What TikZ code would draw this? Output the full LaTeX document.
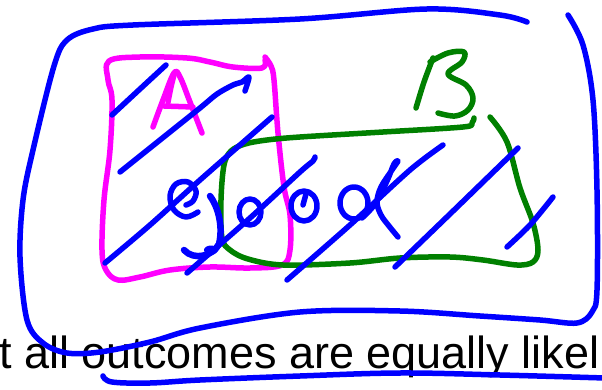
\documentclass[tikz,border=0pt]{standalone}
\usepackage{fontspec}
\newfontfamily\capfont{Liberation Sans}
\definecolor{penblue}{RGB}{0,0,255}
\definecolor{penpink}{RGB}{255,0,255}
\definecolor{pengreen}{RGB}{0,128,0}
\tikzset{
  bluepen/.style={draw=penblue, line width=5.5pt, line cap=round, line join=round},
  pinkpen/.style={draw=penpink, line width=5.5pt, line cap=round, line join=round},
  greenpen/.style={draw=pengreen, line width=5.5pt, line cap=round, line join=round},
  captext/.style={anchor=base west, inner sep=0pt, font=\capfont\fontsize{45}{54}\selectfont, text=black}
}
\begin{document}
\begin{tikzpicture}[x=1pt,y=-1pt]
\useasboundingbox (0,0) rectangle (602,390);
\fill[white] (0,0) rectangle (602,390);

% caption text
\node[captext] (caption) at (-1,368) {t all outcomes are equally likel};

% pink box A
\draw[pinkpen] plot[smooth, tension=0.6] coordinates {(265,60) (262,68) (233,67) (210,62) (187,58) (140,57) (109,61) (108,80) (112,100) (110,150) (104,200) (102,250) (106,270) (118,280) (140,277) (170,270) (210,267) (250,268) (282,265) (290,250) (290,215) (284,187) (278,133) (274,80) (271,66) (265,57)};
% letter A
\draw[pinkpen] plot[smooth, tension=0.6] coordinates {(153,127) (163,100) (174,73) (180,77) (190,102) (202,133)};
\draw[pinkpen] plot[smooth, tension=0.6] coordinates {(168,102) (171,87) (174,75)};
\draw[pinkpen] (164,106) -- (193,107);

% green box B
\draw[greenpen] plot[smooth, tension=0.55] coordinates {(474,118) (472,123) (463,127) (383,132) (300,137) (267,140) (245,144) (231,151) (224,165) (221,200) (222,238) (230,250) (248,259) (283,265) (350,263) (400,258) (450,257) (483,260) (517,265) (533,262) (538,250) (533,223) (520,188) (507,142) (490,117)};
% letter B
\draw[greenpen] plot[smooth, tension=0.6] coordinates {(416,108) (424,82) (433,58)};
\draw[greenpen] plot[smooth, tension=0.6] coordinates {(430,62) (448,53) (464,52) (462,62) (448,74) (466,85) (473,98) (468,110) (455,116) (438,113)};

% outer blue border
\draw[bluepen] plot[smooth, tension=0.55] coordinates {(527,22) (500,15) (427,9) (300,19) (133,25) (93,29) (67,40) (54,66) (33,150) (23,200) (20,257) (27,320) (43,343) (67,353) (100,352) (150,342) (200,328) (300,312) (400,311) (480,316) (540,320) (577,323) (592,312) (597,290) (597,190) (593,100) (583,45) (568,15)};
% underline
\draw[bluepen] plot[smooth, tension=0.6] coordinates {(103,376) (112,382) (150,383) (200,380) (300,376) (400,373) (500,375) (605,378)};

% hatching
\draw[bluepen] plot[smooth, tension=0.5] coordinates {(112,115) (140,89) (166,65)};
\draw[bluepen] plot[smooth, tension=0.5] coordinates {(120,172) (160,140) (200,108) (217,94) (233,85) (242,82) (249,77) (245,91)};
\draw[bluepen] plot[smooth, tension=0.5] coordinates {(105,263) (150,225) (200,180) (272,117)};
\draw[bluepen] plot[smooth, tension=0.5] coordinates {(187,273) (250,218) (300,172) (313,161) (315,157)};
\draw[bluepen] plot[smooth, tension=0.5] coordinates {(287,280) (350,225) (410,170) (443,145)};
\draw[bluepen] plot[smooth, tension=0.5] coordinates {(395,267) (450,214) (518,148)};
\draw[bluepen] plot[smooth, tension=0.5] coordinates {(507,247) (530,225) (553,197)};

% "good"
% g
\draw[bluepen] plot[smooth, tension=0.6] coordinates {(186,205) (193,201) (196,191) (188,182) (176,184) (170,196) (174,210) (186,217) (198,212)};
\draw[bluepen, line width=6.5pt] (210,196) .. controls (219,208) and (223,228) .. (219,244) .. controls (213,256) and (194,261) .. (184,250);
\fill[penblue] (211,250) ellipse [x radius=7pt, y radius=4.5pt];
% o
\draw[bluepen] (250,212) ellipse [x radius=11pt, y radius=13pt];
% o
\draw[bluepen] (304,206) ellipse [x radius=13pt, y radius=15pt];
\draw[bluepen] (306,194) -- (303,205);
% d
\draw[bluepen] (354,203) ellipse [x radius=14pt, y radius=16pt];
\draw[bluepen] plot[smooth, tension=0.6] coordinates {(362,218) (375,204) (387,181) (394,164) (398,161) (392,170) (381,187) (377,202) (381,215) (389,226) (398,237)};
\end{tikzpicture}
\end{document}
